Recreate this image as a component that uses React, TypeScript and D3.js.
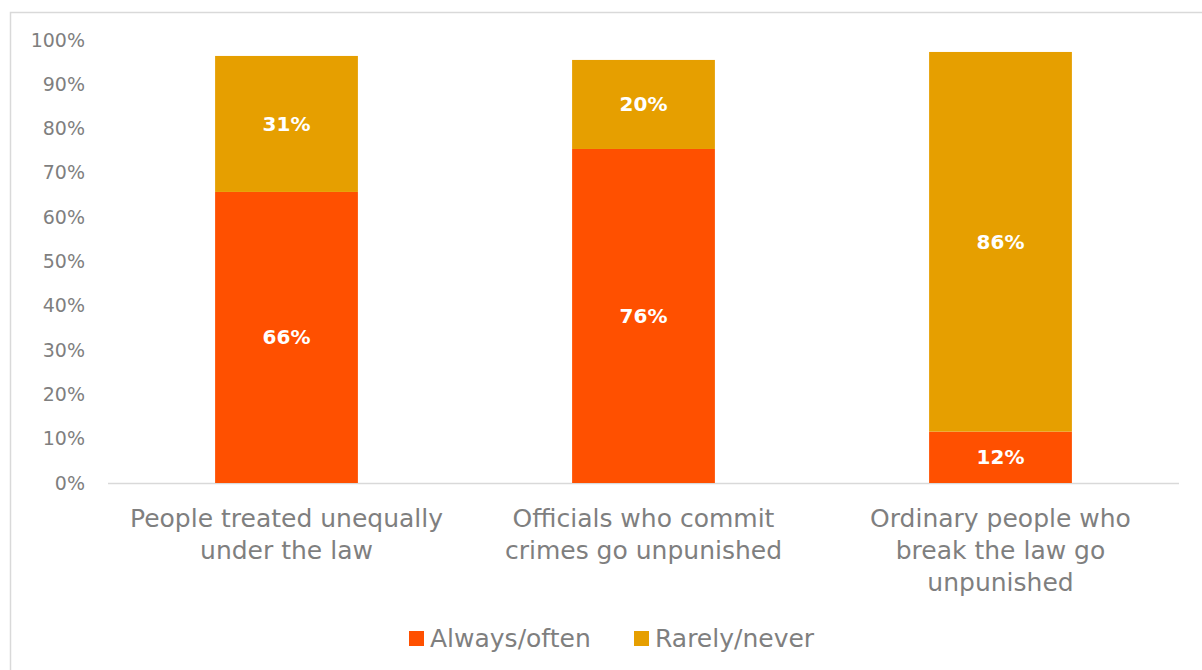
import * as d3 from 'd3';
import { useEffect, useRef } from 'react';

const categories = [
    ['People treated unequally', 'under the law'],
    ['Officials who commit', 'crimes go unpunished'],
    ['Ordinary people who', 'break the law go', 'unpunished'],
];
const alwaysOften = [65.7, 75.4, 11.6];
const rarelyNever = [30.7, 20.1, 85.7];
const alwaysLabels = ['66%', '76%', '12%'];
const rarelyLabels = ['31%', '20%', '86%'];
const seriesNames = ['Always/often', 'Rarely/never'];
const yTicks = [0, 10, 20, 30, 40, 50, 60, 70, 80, 90, 100];

export default function App() {
    const chartRef = useRef(null);

    useEffect(() => {
        const width = 1202;
        const height = 670;
        const plot = { left: 108, right: 1179, top: 40, bottom: 483 };
        const colors = ['#FF5000', '#E69F00'];
        const font = "'DejaVu Sans', sans-serif";
        const textColor = '#7f7f7f';

        const svg = d3
            .select(chartRef.current)
            .append('svg')
            .attr('width', width)
            .attr('height', height)
            .style('position', 'absolute')
            .style('left', 0)
            .style('top', 0)
            .style('font-family', font);

        svg.append('rect')
            .attr('width', width)
            .attr('height', height)
            .attr('fill', '#fff');

        // outer frame (right and bottom edges fall outside the picture)
        svg.append('rect')
            .attr('x', 10.5)
            .attr('y', 12.5)
            .attr('width', 1300)
            .attr('height', 800)
            .attr('fill', 'none')
            .attr('stroke', '#d9d9d9')
            .attr('stroke-width', 1.5);

        const xScale = d3
            .scaleBand()
            .domain(categories.map((_, i) => String(i)))
            .range([plot.left, plot.right])
            .paddingInner(0.6)
            .paddingOuter(0.3);

        const yScale = d3.scaleLinear().domain([0, 100]).range([plot.bottom, plot.top]);

        // y axis labels
        const yAxis = svg
            .append('g')
            .attr('transform', `translate(${85},0)`)
            .call(d3.axisLeft(yScale).tickValues(yTicks).tickFormat((d) => `${d}%`).tickSize(0).tickPadding(0));
        yAxis.select('.domain').remove();
        yAxis.selectAll('text')
            .style('font-family', font)
            .style('font-size', '19px')
            .attr('fill', textColor);

        // baseline
        svg.append('line')
            .attr('x1', plot.left)
            .attr('x2', plot.right)
            .attr('y1', plot.bottom + 0.5)
            .attr('y2', plot.bottom + 0.5)
            .attr('stroke', '#d9d9d9')
            .attr('stroke-width', 1.5);

        const stacked = categories.map((_, i) => ({
            key: String(i),
            segs: [
                { y0: 0, y1: alwaysOften[i], color: colors[0], label: alwaysLabels[i] },
                { y0: alwaysOften[i], y1: alwaysOften[i] + rarelyNever[i], color: colors[1], label: rarelyLabels[i] },
            ],
        }));

        const groups = svg.append('g').selectAll('g').data(stacked).join('g');
        groups.selectAll('rect')
            .data((d) => d.segs.map((s) => ({ ...s, key: d.key })))
            .join('rect')
            .attr('x', (d) => xScale(d.key))
            .attr('width', xScale.bandwidth())
            .attr('y', (d) => yScale(d.y1))
            .attr('height', (d) => yScale(d.y0) - yScale(d.y1))
            .attr('fill', (d) => d.color);

        groups.selectAll('text')
            .data((d) => d.segs.map((s) => ({ ...s, key: d.key })))
            .join('text')
            .attr('x', (d) => xScale(d.key) + xScale.bandwidth() / 2)
            .attr('y', (d) => yScale((d.y0 + d.y1) / 2))
            .attr('dy', '0.35em')
            .attr('text-anchor', 'middle')
            .attr('fill', '#fff')
            .style('font-size', '20px')
            .style('font-weight', 'bold')
            .text((d) => d.label);

        // category labels
        svg.append('g').selectAll('text')
            .data(categories)
            .join('text')
            .attr('text-anchor', 'middle')
            .attr('fill', textColor)
            .style('font-size', '25px')
            .each(function (lines, i) {
                const t = d3.select(this);
                lines.forEach((line, j) => {
                    t.append('tspan')
                        .attr('x', xScale(String(i)) + xScale.bandwidth() / 2)
                        .attr('y', 527 + j * 32)
                        .text(line);
                });
            });

        // legend
        const legendX = [409, 634];
        const legend = svg.append('g').selectAll('g').data(seriesNames).join('g')
            .attr('transform', (_, i) => `translate(${legendX[i]},631)`);
        legend.append('rect')
            .attr('width', 15)
            .attr('height', 15)
            .attr('fill', (_, i) => colors[i]);
        legend.append('text')
            .attr('x', 21)
            .attr('y', 7.5)
            .attr('dy', '0.35em')
            .attr('fill', textColor)
            .style('font-size', '25px')
            .text((d) => d);

        return () => {
            d3.select(chartRef.current).selectAll('*').remove();
        };
    }, []);

    return <div ref={chartRef}></div>;
}
